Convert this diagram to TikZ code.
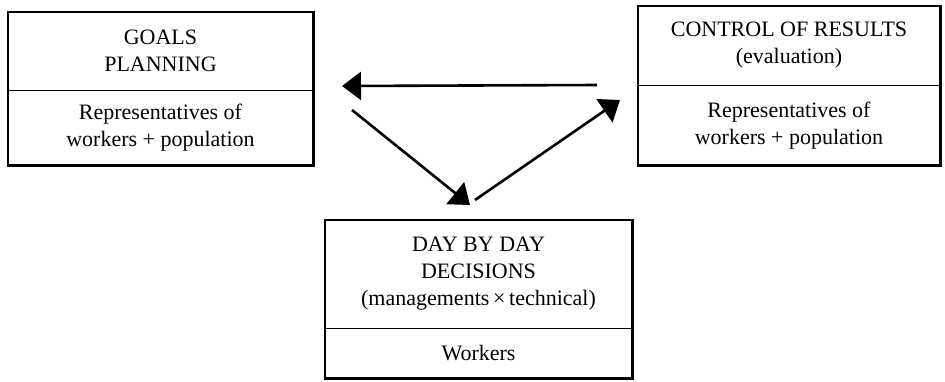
\documentclass[tikz,border=0pt]{standalone}
\usepackage{fontspec}
\setmainfont{Liberation Serif}
\usetikzlibrary{positioning,arrows.meta}

\begin{document}
\begin{tikzpicture}[x=1pt,y=-1pt]
  \tikzset{
    part/.style={inner sep=0pt, align=center, font=\fontsize{22}{27}\selectfont},
    frame/.style={line width=2.6pt},
    rule/.style={line width=1.3pt},
    flow/.style={line width=2.6pt, -{Triangle[length=19pt,width=28pt]}},
  }
  \useasboundingbox (0,0) rectangle (945,381);
  % goals planning (left)
  \node[part, minimum width=305pt, minimum height=78pt] (goalsTop) at (160.5,51) {GOALS\\PLANNING};
  \node[part, minimum width=305pt, minimum height=75pt, below=0pt of goalsTop] (goalsBot) {Representatives of\\workers + population};
  \draw[frame] (goalsTop.north west) rectangle (goalsBot.south east);
  \draw[rule] (goalsTop.south west) -- (goalsTop.south east);
  % control of results (right)
  \node[part, minimum width=302pt, minimum height=79pt] (ctrlTop) at (789,45.5) {CONTROL OF RESULTS\\(evaluation)};
  \node[part, minimum width=302pt, minimum height=80pt, below=0pt of ctrlTop] (ctrlBot) {Representatives of\\workers + population};
  \draw[frame] (ctrlTop.north west) rectangle (ctrlBot.south east);
  \draw[rule] (ctrlTop.south west) -- (ctrlTop.south east);
  % day by day decisions (bottom)
  \node[part, minimum width=307pt, minimum height=108pt] (dayTop) at (478.5,274) {DAY BY DAY\\DECISIONS\\(managements\,×\,technical)};
  \node[part, minimum width=307pt, minimum height=50pt, below=0pt of dayTop] (dayBot) {Workers};
  \draw[frame] (dayTop.north west) rectangle (dayBot.south east);
  \draw[rule] (dayTop.south west) -- (dayTop.south east);
  % cycle arrows
  \coordinate (backStart) at (597,85);
  \coordinate (backEnd) at (342,86);
  \coordinate (downStart) at (352,110);
  \coordinate (downEnd) at (470,205);
  \coordinate (upStart) at (475,200);
  \coordinate (upEnd) at (620,100);
  \draw[flow] (backStart) -- (backEnd);
  \draw[flow] (downStart) -- (downEnd);
  \draw[flow] (upStart) -- (upEnd);
\end{tikzpicture}
\end{document}
